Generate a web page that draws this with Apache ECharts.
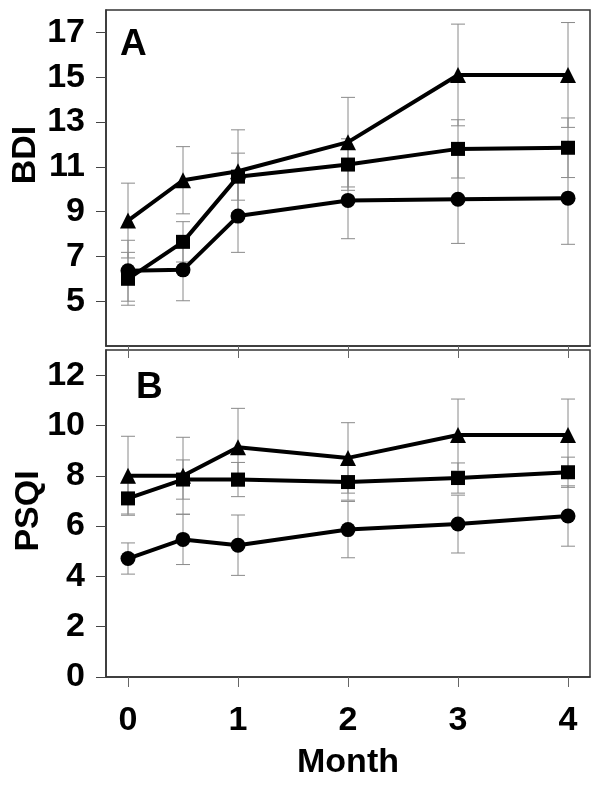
<!DOCTYPE html>
<html>
<head>
<meta charset="utf-8">
<script src="https://cdn.jsdelivr.net/npm/echarts@6/dist/echarts.min.js"></script>
<style>html,body{margin:0;padding:0;background:#fff}#c{width:601px;height:786px}</style>
</head>
<body>
<div id="c"></div>
<script>
// ---- data ----
const months = [0, 0.5, 1, 2, 3, 4];
const monthTicks = [0, 1, 2, 3, 4];
const bdiTicks = [5, 7, 9, 11, 13, 15, 17];
const psqiTicks = [0, 2, 4, 6, 8, 10, 12];

const bdiTriangle   = [8.6, 10.4, 10.8, 12.1, 15.1, 15.1];
const bdiTriangleSE = [1.67, 1.5, 1.85, 2.0, 2.27, 2.34];
const bdiSquare     = [6.0, 7.65, 10.56, 11.1, 11.8, 11.85];
const bdiSquareSE   = [1.18, 0.9, 1.05, 1.15, 1.3, 1.33];
const bdiCircle     = [6.36, 6.4, 8.8, 9.5, 9.55, 9.6];
const bdiCircleSE   = [1.36, 1.38, 1.62, 1.71, 1.97, 2.06];

const psqiTriangle   = [8.0, 8.0, 9.13, 8.71, 9.62, 9.62];
const psqiTriangleSE = [1.57, 1.53, 1.55, 1.4, 1.43, 1.43];
const psqiSquare     = [7.1, 7.85, 7.85, 7.75, 7.91, 8.14];
const psqiSquareSE   = [0.62, 0.78, 0.68, 0.72, 0.6, 0.6];
const psqiCircle     = [4.71, 5.47, 5.24, 5.86, 6.08, 6.4];
const psqiCircleSE   = [0.62, 1.0, 1.2, 1.12, 1.15, 1.2];

// ---- helpers ----
const FONT = '"Liberation Sans", Arial, sans-serif';
function pts(vals) { return months.map((m, i) => [m, vals[i]]); }
function errs(vals, se) { return months.map((m, i) => [m, vals[i] - se[i], vals[i] + se[i]]); }

function errSeries(idx, vals, se) {
  return {
    type: 'custom', xAxisIndex: idx, yAxisIndex: idx, z: 1, silent: true,
    data: errs(vals, se),
    renderItem: function (params, api) {
      const x = api.value(0);
      const lo = api.coord([x, api.value(1)]);
      const hi = api.coord([x, api.value(2)]);
      const hw = 7;
      const st = { stroke: '#8a8a8a', lineWidth: 1 };
      return {
        type: 'group',
        children: [
          { type: 'line', shape: { x1: lo[0], y1: lo[1], x2: hi[0], y2: hi[1] }, style: st },
          { type: 'line', shape: { x1: hi[0] - hw, y1: hi[1], x2: hi[0] + hw, y2: hi[1] }, style: st },
          { type: 'line', shape: { x1: lo[0] - hw, y1: lo[1], x2: lo[0] + hw, y2: lo[1] }, style: st }
        ]
      };
    }
  };
}
function lineSeries(idx, vals, symbol, size) {
  return {
    type: 'line', xAxisIndex: idx, yAxisIndex: idx, z: 3,
    data: pts(vals), symbol: symbol, symbolSize: size, showSymbol: true,
    lineStyle: { color: '#000', width: 4 },
    itemStyle: { color: '#000', borderColor: '#000', borderWidth: 0 },
    emphasis: { disabled: true }, animation: false
  };
}
function xAxis(idx, showLabels) {
  return {
    type: 'value', gridIndex: idx, min: -0.2, max: 4.2,
    axisLine: { show: true, onZero: false, lineStyle: { color: '#333', width: 1.5 } },
    axisTick: { show: true, inside: false, length: showLabels ? 10 : 12, customValues: monthTicks,
                lineStyle: { color: '#666', width: 1 } },
    axisLabel: { show: showLabels, customValues: monthTicks, margin: 27,
                 fontFamily: FONT, fontWeight: 'bold', fontSize: 34, color: '#000' },
    splitLine: { show: false },
    name: showLabels ? 'Month' : '', nameLocation: 'middle', nameGap: 69,
    nameTextStyle: { fontFamily: FONT, fontWeight: 'bold', fontSize: 34, color: '#000' }
  };
}
function yAxis(idx, min, max, ticks) {
  return {
    type: 'value', gridIndex: idx, min: min, max: max,
    axisLine: { show: true, onZero: false, lineStyle: { color: '#333', width: 1.5 } },
    axisTick: { show: true, inside: false, length: 10, customValues: ticks,
                lineStyle: { color: '#444', width: 1 } },
    axisLabel: { show: true, customValues: ticks, margin: 21,
                 fontFamily: FONT, fontWeight: 'bold', fontSize: 34, color: '#000' },
    splitLine: { show: false }
  };
}

const chart = echarts.init(document.getElementById('c'), null, { renderer: 'canvas' });
chart.setOption({
  animation: false,
  backgroundColor: '#fff',
  grid: [
    { left: 106, top: 10, width: 484, height: 336, show: true, borderColor: '#333', borderWidth: 1.5, backgroundColor: 'transparent' },
    { left: 106, top: 350, width: 484, height: 327, show: true, borderColor: '#333', borderWidth: 1.5, backgroundColor: 'transparent' }
  ],
  xAxis: [xAxis(0, false), xAxis(1, true)],
  yAxis: [yAxis(0, 3, 18, bdiTicks), yAxis(1, 0, 13, psqiTicks)],
  graphic: [
    { type: 'text', left: 120, top: 26, style: { text: 'A', font: 'bold 37px ' + FONT, fill: '#000' } },
    { type: 'text', left: 136, top: 369, style: { text: 'B', font: 'bold 37px ' + FONT, fill: '#000' } },
    { type: 'text', x: 26, y: 155, rotation: Math.PI / 2,
      style: { text: 'BDI', font: 'bold 34px ' + FONT, fill: '#000', align: 'center', verticalAlign: 'middle' } },
    { type: 'text', x: 29, y: 511, rotation: Math.PI / 2,
      style: { text: 'PSQI', font: 'bold 34px ' + FONT, fill: '#000', align: 'center', verticalAlign: 'middle' } }
  ],
  series: [
    errSeries(0, bdiTriangle, bdiTriangleSE),
    errSeries(0, bdiSquare, bdiSquareSE),
    errSeries(0, bdiCircle, bdiCircleSE),
    lineSeries(0, bdiCircle, 'circle', 15),
    lineSeries(0, bdiSquare, 'rect', 14),
    lineSeries(0, bdiTriangle, 'triangle', 16),
    errSeries(1, psqiTriangle, psqiTriangleSE),
    errSeries(1, psqiSquare, psqiSquareSE),
    errSeries(1, psqiCircle, psqiCircleSE),
    lineSeries(1, psqiCircle, 'circle', 15),
    lineSeries(1, psqiSquare, 'rect', 14),
    lineSeries(1, psqiTriangle, 'triangle', 16)
  ]
});
</script>
</body>
</html>
